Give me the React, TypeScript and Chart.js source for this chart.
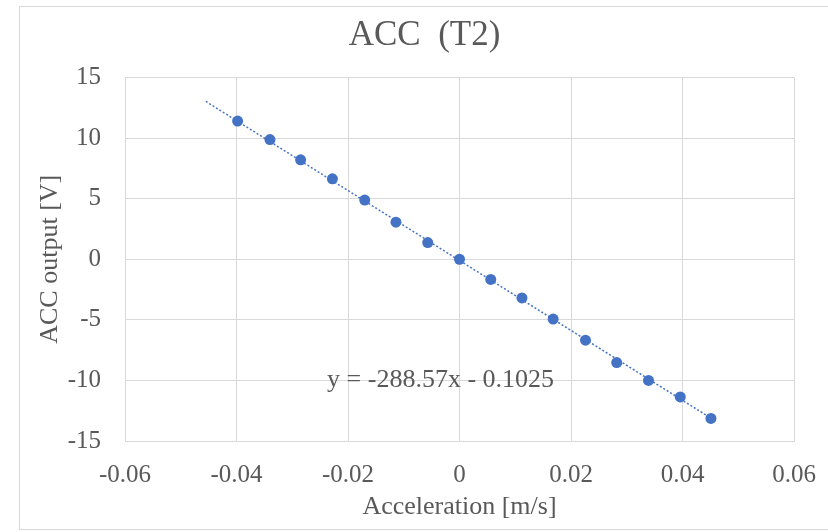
import React, { useEffect, useRef } from "react";
import { Chart, registerables } from "chart.js";

Chart.register(...registerables);

const TITLE = "ACC  (T2)";
const X_TITLE = "Acceleration [m/s]";
const Y_TITLE = "ACC output [V]";

const ACCEL_X = [
  -0.0398, -0.034, -0.0285, -0.0228, -0.017, -0.0114, -0.0057, 0.0,
  0.0056, 0.0112, 0.0168, 0.0226, 0.0282, 0.0339, 0.0396, 0.0451,
];
const OUTPUT_Y = [
  11.4, 9.88, 8.21, 6.64, 4.88, 3.06, 1.38, 0.0,
  -1.67, -3.19, -4.94, -6.68, -8.53, -10.0, -11.36, -13.14,
];

const TREND_SLOPE = -288.57;
const TREND_INTERCEPT = -0.1025;
const TREND_X_RANGE = [-0.0455, 0.0452];
const TREND_LABEL = "y = -288.57x - 0.1025";
const TREND_LABEL_AT = [-0.0034, -10.0];

const X_TICK_VALUES = [-0.06, -0.04, -0.02, 0, 0.02, 0.04, 0.06];
const X_TICK_LABELS = ["-0.06", "-0.04", "-0.02", "0", "0.02", "0.04", "0.06"];
const Y_TICK_VALUES = [-15, -10, -5, 0, 5, 10, 15];
const Y_TICK_LABELS = ["-15", "-10", "-5", "0", "5", "10", "15"];

const FONT = "'Liberation Serif', 'Times New Roman', serif";
const TEXT = "#595959";
const GRID = "#d9d9d9";
const BLUE = "#4472C4";

export default function App() {
  const ref = useRef<HTMLCanvasElement | null>(null);

  useEffect(() => {
    const canvas = ref.current;
    if (!canvas) return;

    const frame = {
      id: "frame",
      beforeDraw(chart: any) {
        const ctx = chart.ctx;
        ctx.save();
        ctx.fillStyle = "#ffffff";
        ctx.fillRect(0, 0, chart.width, chart.height);
        ctx.strokeStyle = GRID;
        ctx.lineWidth = 1;
        ctx.strokeRect(19.5, 6.5, chart.width + 20, 523);
        ctx.font = `35px ${FONT}`;
        ctx.fillStyle = TEXT;
        ctx.textAlign = "center";
        ctx.textBaseline = "middle";
        ctx.fillText(TITLE, 424.5, 36);
        ctx.restore();
      },
    };

    const eqLabel = {
      id: "eqLabel",
      afterDatasetsDraw(chart: any) {
        const ctx = chart.ctx;
        const xs = chart.scales.x;
        const ys = chart.scales.y;
        ctx.save();
        ctx.font = `26px ${FONT}`;
        ctx.fillStyle = TEXT;
        ctx.textAlign = "center";
        ctx.textBaseline = "middle";
        ctx.fillText(
          TREND_LABEL,
          xs.getPixelForValue(TREND_LABEL_AT[0]),
          ys.getPixelForValue(TREND_LABEL_AT[1])
        );
        ctx.restore();
      },
    };

    const points = ACCEL_X.map((x, i) => ({ x, y: OUTPUT_Y[i] }));
    const trend = TREND_X_RANGE.map((x) => ({ x, y: TREND_SLOPE * x + TREND_INTERCEPT }));

    const chart = new Chart(canvas, {
      type: "scatter",
      data: {
        datasets: [
          {
            type: "line",
            data: trend,
            borderColor: BLUE,
            borderWidth: 1.5,
            borderDash: [2, 2],
            pointRadius: 0,
            fill: false,
            order: 2,
          } as any,
          {
            data: points,
            backgroundColor: BLUE,
            borderColor: BLUE,
            borderWidth: 0,
            pointRadius: 5.5,
            order: 1,
          },
        ],
      },
      options: {
        animation: false,
        responsive: false,
        devicePixelRatio: 1,
        layout: { padding: { left: 20, right: 34, top: 77.5, bottom: 0 } },
        plugins: {
          legend: { display: false },
          tooltip: { enabled: false },
          title: { display: false },
        },
        scales: {
          x: {
            type: "linear",
            min: -0.06,
            max: 0.06,
            afterBuildTicks(scale: any) {
              scale.ticks = X_TICK_VALUES.map((v) => ({ value: v }));
            },
            afterFit(scale: any) {
              scale.height = 91;
              scale.paddingLeft = 0;
              scale.paddingRight = 0;
            },
            ticks: {
              color: TEXT,
              font: { family: FONT, size: 25 },
              padding: 19,
              maxRotation: 0,
              callback: (v: any) => {
                const i = X_TICK_VALUES.findIndex((t) => Math.abs(t - Number(v)) < 1e-9);
                return i >= 0 ? X_TICK_LABELS[i] : "";
              },
            },
            grid: { color: GRID, lineWidth: 1, drawTicks: false },
            border: { display: true, color: GRID, width: 1 },
            title: {
              display: true,
              text: X_TITLE,
              color: TEXT,
              font: { family: FONT, size: 26 },
              padding: { top: 0, bottom: 9 },
            },
          },
          y: {
            type: "linear",
            min: -15,
            max: 15,
            afterBuildTicks(scale: any) {
              scale.ticks = Y_TICK_VALUES.map((v) => ({ value: v }));
            },
            afterFit(scale: any) {
              scale.width = 105;
              scale.paddingTop = 0;
              scale.paddingBottom = 0;
            },
            ticks: {
              color: TEXT,
              font: { family: FONT, size: 25 },
              padding: 24,
              callback: (v: any) => {
                const i = Y_TICK_VALUES.findIndex((t) => Math.abs(t - Number(v)) < 1e-9);
                return i >= 0 ? Y_TICK_LABELS[i] : "";
              },
            },
            grid: { color: GRID, lineWidth: 1, drawTicks: false },
            border: { display: true, color: GRID, width: 1 },
            title: {
              display: true,
              text: Y_TITLE,
              color: TEXT,
              font: { family: FONT, size: 26 },
              padding: { top: 14.4, bottom: 0 },
            },
          },
        },
      },
      plugins: [frame, eqLabel],
    });

    return () => chart.destroy();
  }, []);

  return (
    <div style={{ position: "absolute", left: 0, top: 0, width: 828, height: 532 }}>
      <canvas ref={ref} width={828} height={532} style={{ display: "block" }} />
    </div>
  );
}
